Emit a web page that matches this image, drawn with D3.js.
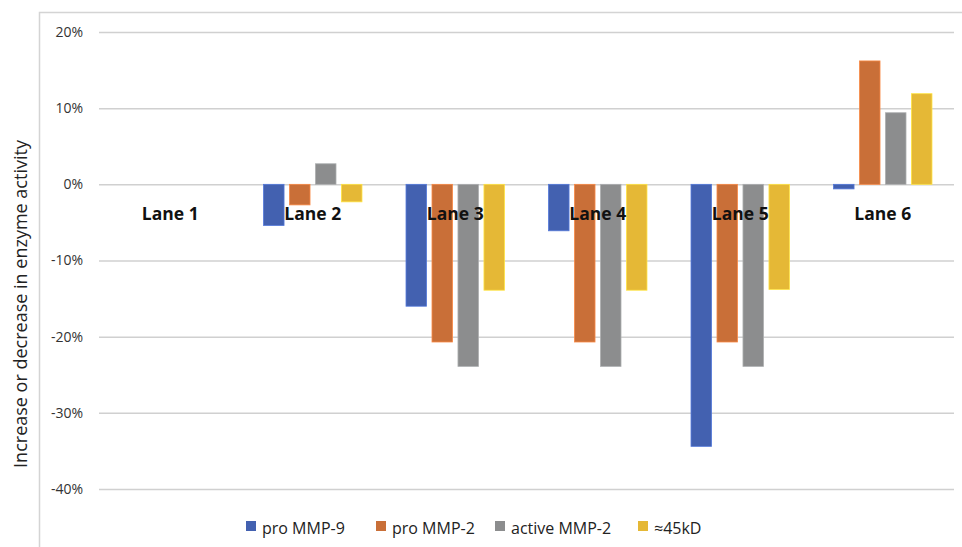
<!DOCTYPE html>
<html><head><meta charset="utf-8">
<script src="https://cdn.jsdelivr.net/npm/d3@7"></script>
<style>body{margin:0;background:#fff;} svg{display:block;}</style>
</head><body>
<script>
const lanes = ["Lane 1","Lane 2","Lane 3","Lane 4","Lane 5","Lane 6"];
const seriesNames = ["pro MMP-9","pro MMP-2","active MMP-2","≈45kD"];
const proMMP9 =    [0, -5.4, -16.0, -6.1, -34.4, -0.6];
const proMMP2 =    [0, -2.7, -20.7, -20.7, -20.7, 16.2];
const activeMMP2 = [0,  2.7, -23.9, -23.9, -23.9,  9.4];
const kd45 =       [0, -2.3, -13.9, -13.9, -13.8, 11.9];
const yTicks = [20, 10, 0, -10, -20, -30, -40];
const colors = ["#4361B0","#C96F38","#8C8D8E","#E5B836"];

const seriesValues = [proMMP9, proMMP2, activeMMP2, kd45];
const W = 962, H = 547;
const svg = d3.select("body").append("svg").attr("width", W).attr("height", H);
const font = "'Open Sans', sans-serif";

// frame
svg.append("path").attr("d", `M39.5,${H} V12.5 H${W}`).attr("fill","none").attr("stroke","#d4d4d4").attr("stroke-width",1.5);

const plotL = 99, plotR = 954;
const y = d3.scaleLinear().domain([-40, 20]).range([489, 32]);
const x0 = d3.scaleBand().domain(lanes).range([plotL, plotR]).paddingInner(0.309).paddingOuter(0.1545);
const x1 = d3.scaleBand().domain(d3.range(4)).range([0, x0.bandwidth()]).paddingInner(0.21).paddingOuter(0);

// gridlines
const yAxis = d3.axisLeft(y).tickValues(yTicks).tickSize(-(plotR - plotL)).tickFormat(d => d + "%").tickPadding(16);
const ga = svg.append("g").attr("transform", `translate(${plotL},0)`).call(yAxis);
ga.select(".domain").remove();
ga.selectAll(".tick line").attr("stroke","#d0d0d0").attr("stroke-width",1.5);
ga.selectAll(".tick text").attr("font-family", font).attr("font-size", 14).attr("fill","#333");

// bars
const groups = svg.append("g").selectAll("g").data(lanes).join("g")
  .attr("transform", d => `translate(${x0(d)},0)`);
groups.selectAll("rect").data((d, i) => seriesValues.map((s, k) => ({k, v: s[i]})))
  .join("rect")
  .attr("x", d => x1(d.k))
  .attr("width", x1.bandwidth())
  .attr("y", d => Math.min(y(d.v), y(0)))
  .attr("height", d => Math.abs(y(d.v) - y(0)))
  .attr("fill", d => colors[d.k])
  .attr("stroke", d => d3.color(colors[d.k]).brighter(0.6))
  .attr("stroke-width", 0.8);

// lane labels
svg.append("g").selectAll("text").data(lanes).join("text")
  .attr("x", d => x0(d) + x0.bandwidth() / 2)
  .attr("y", 220)
  .attr("text-anchor","middle")
  .attr("font-family", font).attr("font-weight","bold").attr("font-size", 17.5)
  .attr("fill","#111").text(d => d);

// y title
svg.append("text").attr("transform", "translate(27,304) rotate(-90)")
  .attr("text-anchor","middle").attr("font-family", font).attr("font-size", 18)
  .attr("fill","#222").text("Increase or decrease in enzyme activity");

// legend
const legX = [246, 376, 495, 638];
const leg = svg.append("g").selectAll("g").data(seriesNames).join("g")
  .attr("transform", (d, i) => `translate(${legX[i]},0)`);
leg.append("rect").attr("x",0).attr("y",521).attr("width",10).attr("height",10)
  .attr("fill", (d, i) => colors[i]);
leg.append("text").attr("x", 16).attr("y", 534).attr("font-family", font).attr("font-size", 16)
  .attr("fill","#222").text(d => d);
</script>
</body></html>
